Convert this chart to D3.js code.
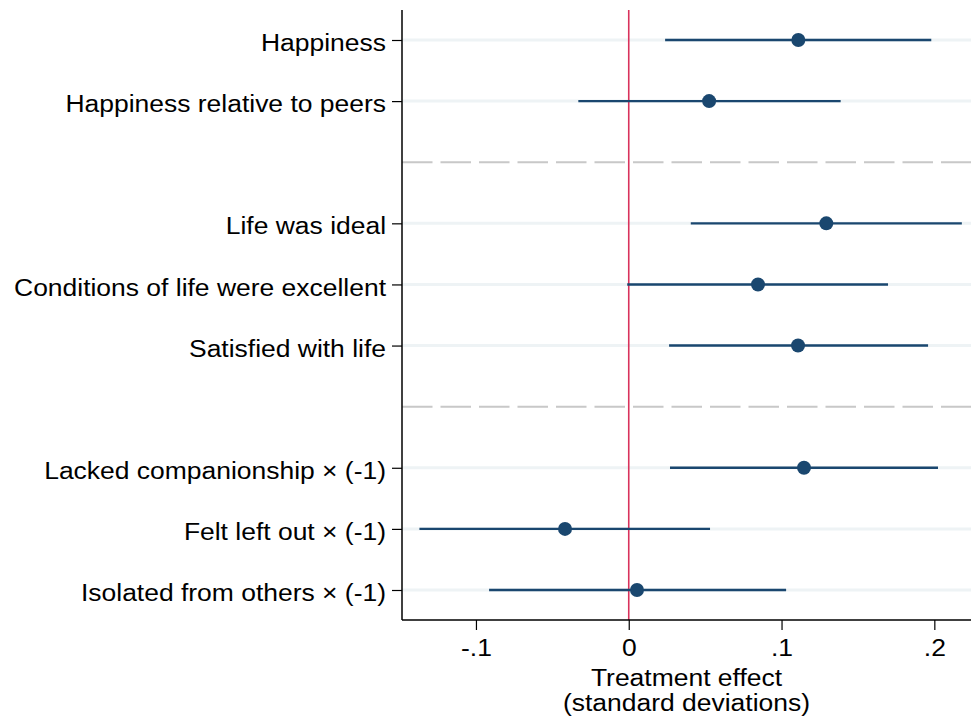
<!DOCTYPE html>
<html>
<head>
<meta charset="utf-8">
<script src="https://cdn.jsdelivr.net/npm/d3@7"></script>
<style>
  html, body { margin: 0; padding: 0; background: #fff; }
  svg text { font-family: "Liberation Sans", Arial, Helvetica, sans-serif; fill: #000; }
</style>
</head>
<body>
<svg id="chart" width="971" height="721"></svg>
<script>
// Outcome labels, top to bottom; null marks a group separator slot
const outcomes = [
  "Happiness",
  "Happiness relative to peers",
  null,
  "Life was ideal",
  "Conditions of life were excellent",
  "Satisfied with life",
  null,
  "Lacked companionship \u00d7 (-1)",
  "Felt left out \u00d7 (-1)",
  "Isolated from others \u00d7 (-1)"
];
// Point estimates and 95% confidence bounds (standard deviations)
const estimate = [0.111, 0.0526, null, 0.1293, 0.0846, 0.1108, null, 0.1147, -0.0417, 0.0054];
const ciLow    = [0.0238, -0.033, null, 0.0406, -0.001, 0.0264, null, 0.027, -0.137, -0.0914];
const ciHigh   = [0.198, 0.1387, null, 0.218, 0.1697, 0.1959, null, 0.2024, 0.0532, 0.103];
const xTickValues = [-0.1, 0, 0.1, 0.2];
const xTickLabels = ["-.1", "0", ".1", ".2"];
const axisTitle = ["Treatment effect", "(standard deviations)"];

const svg = d3.select("#chart");
const plotLeft = 402, plotRight = 971, plotTop = 10, plotBottom = 620;
const fontSize = 23, widen = 1.15;

const x = d3.scaleLinear().domain([-0.1484, 0.224]).range([plotLeft, plotRight]);
const y = d3.scalePoint().domain(d3.range(outcomes.length)).range([40, 590]);

const rows = outcomes.map((label, i) => ({
  i, label, est: estimate[i], lo: ciLow[i], hi: ciHigh[i]
}));
const items = rows.filter(d => d.label !== null);
const seps = rows.filter(d => d.label === null);

// slightly wider lettering, as in the Stata export
function widenText(sel) {
  sel.each(function () {
    const w = this.getComputedTextLength();
    d3.select(this).attr("textLength", w * widen).attr("lengthAdjust", "spacingAndGlyphs");
  });
}

// light row guides
svg.append("g").selectAll("line").data(items).join("line")
  .attr("x1", plotLeft).attr("x2", plotRight)
  .attr("y1", d => y(d.i)).attr("y2", d => y(d.i))
  .attr("stroke", "#eef3f5").attr("stroke-width", 3);

// dashed group separators
svg.append("g").selectAll("line").data(seps).join("line")
  .attr("x1", plotLeft).attr("x2", plotRight)
  .attr("y1", d => y(d.i)).attr("y2", d => y(d.i))
  .attr("stroke", "#c8c8c8").attr("stroke-width", 2)
  .attr("stroke-dasharray", "30.5 8");

// zero reference line
svg.append("line")
  .attr("x1", x(0)).attr("x2", x(0))
  .attr("y1", plotTop).attr("y2", plotBottom)
  .attr("stroke", "#d9325c").attr("stroke-width", 1.6);

// confidence intervals
svg.append("g").selectAll("line").data(items).join("line")
  .attr("x1", d => x(d.lo)).attr("x2", d => x(d.hi))
  .attr("y1", d => y(d.i)).attr("y2", d => y(d.i))
  .attr("stroke", "#1a476f").attr("stroke-width", 2.4);

// point estimates
svg.append("g").selectAll("circle").data(items).join("circle")
  .attr("cx", d => x(d.est)).attr("cy", d => y(d.i))
  .attr("r", 7).attr("fill", "#1a476f");

// y axis
const yAxis = d3.axisLeft(y)
  .tickValues(items.map(d => d.i))
  .tickFormat(i => outcomes[i])
  .tickSize(10).tickPadding(6);
const gy = svg.append("g").attr("transform", `translate(${plotLeft},0)`).call(yAxis);
gy.select(".domain").remove();
gy.append("line").attr("x1", 0).attr("x2", 0).attr("y1", plotTop).attr("y2", plotBottom)
  .attr("stroke", "#000").attr("stroke-width", 1.5);
gy.selectAll(".tick line").attr("stroke", "#000").attr("stroke-width", 1.2);
gy.selectAll(".tick text").attr("font-size", fontSize).attr("fill", "#000")
  .attr("dy", "0.46em")
  .attr("font-family", "'Liberation Sans', Arial, sans-serif")
  .call(widenText);

// x axis
const xAxis = d3.axisBottom(x)
  .tickValues(xTickValues)
  .tickFormat((d, k) => xTickLabels[k])
  .tickSize(10).tickPadding(10);
const gx = svg.append("g").attr("transform", `translate(0,${plotBottom})`).call(xAxis);
gx.select(".domain").remove();
gx.append("line").attr("x1", plotLeft).attr("x2", plotRight).attr("y1", 0).attr("y2", 0)
  .attr("stroke", "#000").attr("stroke-width", 1.5);
gx.selectAll(".tick line").attr("stroke", "#000").attr("stroke-width", 1.2);
gx.selectAll(".tick text").attr("font-size", fontSize).attr("fill", "#000")
  .attr("font-family", "'Liberation Sans', Arial, sans-serif")
  .call(widenText);

// axis title
svg.append("g").selectAll("text").data(axisTitle).join("text")
  .attr("x", (plotLeft + plotRight) / 2)
  .attr("y", (d, k) => 686 + k * 25)
  .attr("text-anchor", "middle").attr("font-size", fontSize)
  .text(d => d)
  .call(widenText);
</script>
</body>
</html>
